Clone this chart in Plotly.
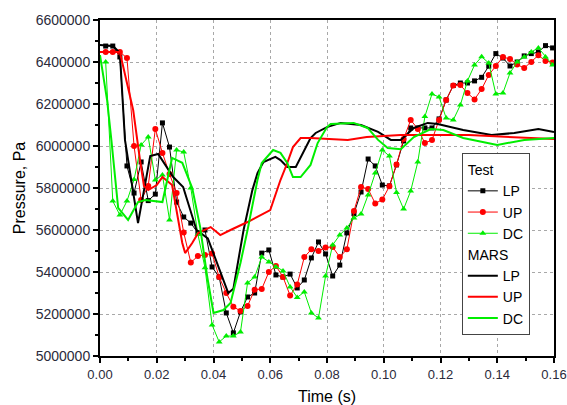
import plotly.graph_objects as go

# --- Test measurements (shared sampling times, s) ---
t_test = [0.002, 0.0045, 0.007, 0.0095, 0.012, 0.0145, 0.017, 0.0195, 0.022, 0.0245,
          0.027, 0.0295, 0.032, 0.0345, 0.037, 0.0395, 0.042, 0.0445, 0.047, 0.0495,
          0.052, 0.0545, 0.057, 0.0595, 0.062, 0.0645, 0.067, 0.0695, 0.072, 0.0745,
          0.077, 0.0795, 0.082, 0.0845, 0.087, 0.0895, 0.092, 0.0945, 0.097, 0.0995,
          0.102, 0.1045, 0.107, 0.1095, 0.112, 0.1145, 0.117, 0.1195, 0.122, 0.1245,
          0.127, 0.1295, 0.132, 0.1345, 0.137, 0.1395, 0.142, 0.1445, 0.147, 0.1495,
          0.152, 0.1545, 0.157, 0.1595]

test_lp = [6476000, 6476000, 6424000, 5905000, 5776000, 5924000, 5740000, 5771000, 6110000, 5995000,
           5733000, 5662000, 5633000, 5586000, 5600000, 5424000, 5376000, 5205000, 5110000, 5210000,
           5281000, 5300000, 5490000, 5505000, 5386000, 5376000, 5390000, 5324000, 5362000, 5467000,
           5543000, 5486000, 5381000, 5433000, 5586000, 5678000, 5781000, 5938000, 5905000, 5814000,
           5810000, 5910000, 6024000, 6086000, 6086000, 6086000, 6086000, 6129000, 6219000, 6288000,
           6300000, 6300000, 6310000, 6327000, 6380000, 6440000, 6419000, 6381000, 6400000, 6429000,
           6440000, 6448000, 6478000, 6467000]

test_up = [6448000, 6448000, 6448000, 6419000, 6000000, 5743000, 5810000, 6081000, 5967000, 5867000,
           5776000, 5588000, 5445000, 5476000, 5481000, 5488000, 5376000, 5300000, 5235000, 5214000,
           5238000, 5316000, 5319000, 5400000, 5429000, 5376000, 5288000, 5340000, 5471000, 5508000,
           5500000, 5517000, 5519000, 5471000, 5508000, 5690000, 5805000, 5795000, 5726000, 5745000,
           5808000, 5912000, 6033000, 6124000, 6081000, 6014000, 6029000, 6124000, 6219000, 6288000,
           6290000, 6252000, 6222000, 6271000, 6338000, 6381000, 6424000, 6414000, 6388000, 6371000,
           6400000, 6432000, 6405000, 6398000]

test_dc = [6400000, 5738000, 5671000, 5738000, 5840000, 6005000, 6043000, 5838000, 5862000, 5648000,
           5981000, 5971000, 5800000, 5580000, 5420000, 5148000, 5067000, 5095000, 5095000, 5114000,
           5348000, 5376000, 5471000, 5448000, 5424000, 5405000, 5329000, 5279000, 5305000, 5205000,
           5181000, 5381000, 5529000, 5576000, 5610000, 5657000, 5676000, 5767000, 5871000, 5981000,
           5952000, 5779000, 5700000, 5786000, 5924000, 6140000, 6248000, 6233000, 6133000, 6124000,
           6195000, 6310000, 6386000, 6425000, 6395000, 6248000, 6252000, 6348000, 6400000, 6424000,
           6448000, 6467000, 6424000, 6386000]

# --- MARS calculation results ---
t_mars_lp = [0.0, 0.0046, 0.007, 0.0088, 0.0134, 0.0177, 0.0205, 0.0258, 0.0293, 0.034,
             0.038, 0.041, 0.044, 0.0452, 0.047, 0.0506, 0.0537, 0.0555, 0.0576, 0.0618,
             0.0636, 0.066, 0.069, 0.0742, 0.076, 0.08, 0.0848, 0.092, 0.098, 0.1025,
             0.106, 0.1106, 0.1155, 0.119, 0.128, 0.138, 0.146, 0.1545, 0.16]
mars_lp = [6481000, 6476000, 6443000, 6029000, 5633000, 5952000, 5962000, 5852000, 5805000, 5600000,
           5560000, 5450000, 5340000, 5300000, 5320000, 5600000, 5790000, 5871000, 5924000, 5948000,
           5933000, 5900000, 5900000, 6038000, 6062000, 6090000, 6110000, 6100000, 6067000, 6029000,
           6029000, 6086000, 6110000, 6105000, 6076000, 6052000, 6062000, 6081000, 6067000]

t_mars_up = [0.0, 0.007, 0.0095, 0.0117, 0.0141, 0.0155, 0.017, 0.02, 0.022, 0.0254,
             0.029, 0.03, 0.0325, 0.0346, 0.039, 0.0424, 0.046, 0.052, 0.06, 0.0636,
             0.066, 0.068, 0.0707, 0.0742, 0.0873, 0.094, 0.106, 0.13, 0.16]
mars_up = [6448000, 6448000, 6300000, 6171000, 5933000, 5810000, 5790000, 5814000, 5852000, 5814000,
           5538000, 5490000, 5538000, 5586000, 5614000, 5576000, 5600000, 5638000, 5695000, 5838000,
           5919000, 5995000, 6038000, 6038000, 6029000, 6043000, 6052000, 6052000, 6033000]

t_mars_dc = [0.0, 0.0025, 0.004, 0.0064, 0.0099, 0.0134, 0.016, 0.022, 0.0254, 0.029,
             0.0325, 0.0353, 0.0378, 0.04, 0.0435, 0.046, 0.0495, 0.052, 0.0555, 0.057,
             0.061, 0.0636, 0.066, 0.068, 0.0707, 0.0742, 0.0767, 0.08, 0.0813, 0.0894,
             0.0943, 0.098, 0.1014, 0.106, 0.1106, 0.1166, 0.121, 0.128, 0.14, 0.1495, 0.16]
mars_dc = [6433000, 6219000, 6029000, 5705000, 5648000, 5733000, 5743000, 5733000, 5943000, 5920000,
           5800000, 5614000, 5376000, 5205000, 5219000, 5252000, 5443000, 5600000, 5838000, 5919000,
           5981000, 5967000, 5919000, 5852000, 5852000, 5910000, 6014000, 6090000, 6105000, 6110000,
           6086000, 6029000, 5990000, 5985000, 6043000, 6081000, 6076000, 6038000, 6005000, 6029000,
           6038000]

BLACK, RED, GREEN = "#000000", "#ff0000", "#00ee00"
FONT = "Arial, Liberation Sans, sans-serif"
LEGEND_SIZE = 14

fig = go.Figure()

test_specs = [("LP", test_lp, BLACK, "square", 5),
              ("UP", test_up, RED, "circle", 6),
              ("DC", test_dc, GREEN, "triangle-up", 6)]
for name, vals, col, sym, size in test_specs:
    fig.add_trace(go.Scatter(
        x=t_test, y=vals, name=name, mode="lines+markers",
        line=dict(color=col, width=1),
        marker=dict(color=col, symbol=sym, size=size, line=dict(width=0)),
        legendgroup="test",
        legendgrouptitle=dict(text="Test", font=dict(size=LEGEND_SIZE, color="#000")),
    ))

mars_specs = [("LP", t_mars_lp, mars_lp, BLACK),
              ("UP", t_mars_up, mars_up, RED),
              ("DC", t_mars_dc, mars_dc, GREEN)]
for name, tt, vals, col in mars_specs:
    fig.add_trace(go.Scatter(
        x=tt, y=vals, name=name, mode="lines",
        line=dict(color=col, width=2),
        legendgroup="mars",
        legendgrouptitle=dict(text="MARS", font=dict(size=LEGEND_SIZE, color="#000")),
    ))

axis_common = dict(
    automargin=False,
    showline=True, linecolor="#000", linewidth=2, mirror=True,
    ticks="outside", ticklen=5, tickwidth=1.5, tickcolor="#000",
    showgrid=True, gridcolor="#a8a8a8", gridwidth=1, griddash="3px,3px",
    zeroline=False,
)

fig.update_xaxes(
    range=[0, 0.16], dtick=0.02, tickformat=".2f",
    tickfont=dict(family=FONT, size=13, color="#2a2a3a"),
    minor=dict(dtick=0.01, ticks="outside", ticklen=3, tickcolor="#000", showgrid=False),
    title=dict(text="Time (s)", font=dict(family=FONT, size=16, color="#000"), standoff=14),
    **axis_common,
)
fig.update_yaxes(
    range=[5000000, 6600000], dtick=200000, tickformat="d",
    tickfont=dict(family=FONT, size=14, color="#2a2a3a"),
    minor=dict(dtick=100000, ticks="outside", ticklen=3, tickcolor="#000", showgrid=False),
    title=dict(text="Pressure, Pa", font=dict(family=FONT, size=16, color="#000"), standoff=6),
    **axis_common,
)

fig.update_layout(
    width=567, height=405,
    margin=dict(l=100, r=13, t=20, b=49),
    paper_bgcolor="white", plot_bgcolor="white",
    font=dict(family=FONT, color="#000"),
    legend=dict(
        x=0.797, y=0.604, xanchor="left", yanchor="top",
        bgcolor="white", bordercolor="#444", borderwidth=1,
        font=dict(family=FONT, size=LEGEND_SIZE, color="#000"),
        traceorder="grouped", tracegroupgap=0, itemwidth=30,
    ),
    showlegend=True,
)

fig.write_html("out.html")
